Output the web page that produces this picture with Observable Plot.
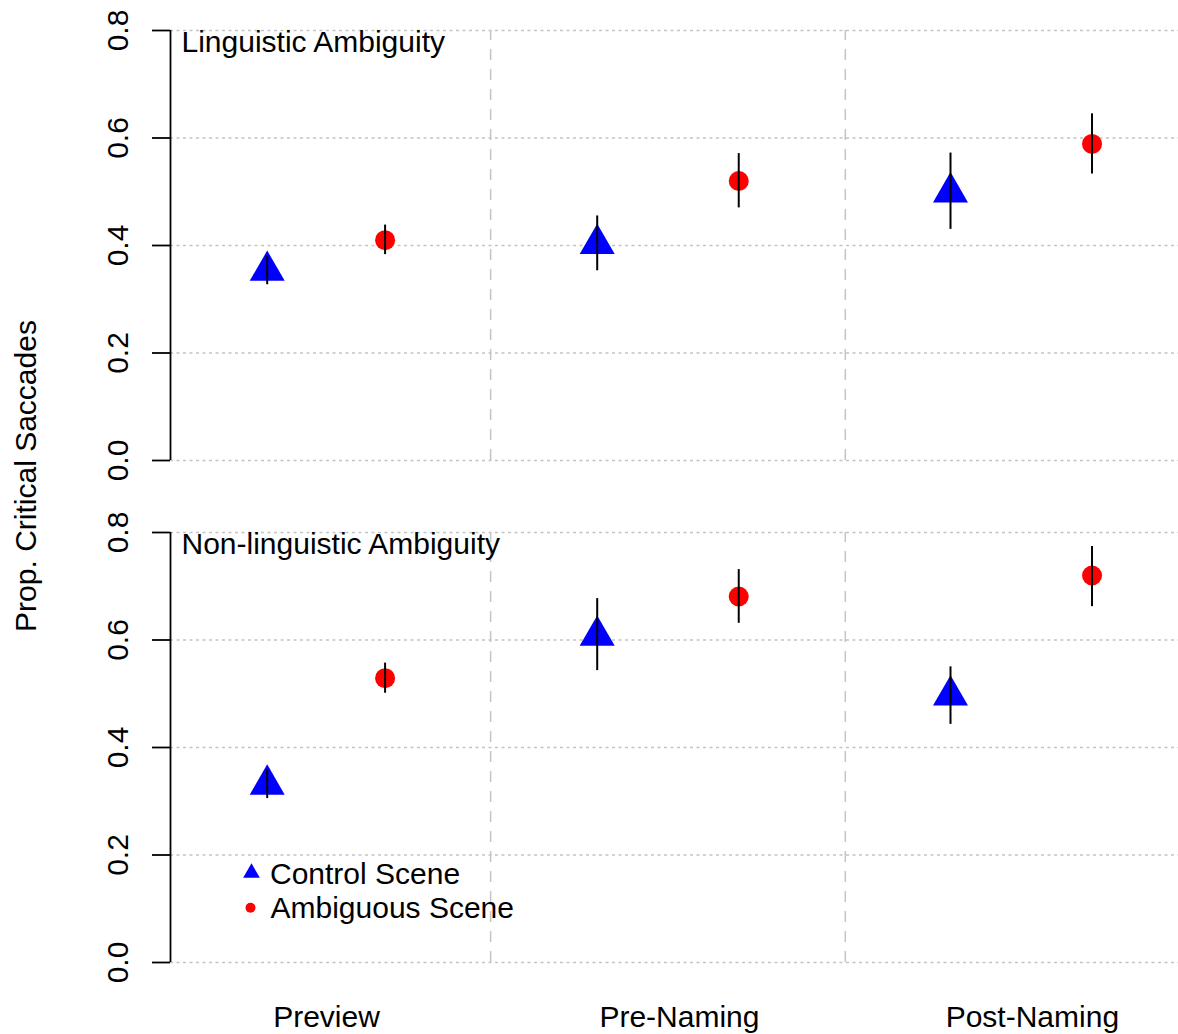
<!DOCTYPE html>
<html>
<head>
<meta charset="utf-8">
<script src="https://cdn.jsdelivr.net/npm/d3@7"></script>
<script src="https://cdn.jsdelivr.net/npm/@observablehq/plot@0.6"></script>
<style>
  body { margin: 0; background: #fff; }
  #chart { position: relative; width: 1178px; height: 1034px; background: #fff;
           font-family: "Liberation Sans", Arial, Helvetica, sans-serif; }
  #chart svg { position: absolute; left: 0; }
  #ytitle { position: absolute; left: 26px; top: 476px; transform: translate(-50%, -50%) rotate(-90deg);
            font-size: 30px; white-space: nowrap; line-height: normal; color: #000; }
</style>
</head>
<body>
<div id="chart"></div>
<script>
// ---- data ----
const phases = ["Preview", "Pre-Naming", "Post-Naming"];
const phaseCenters = [1, 2, 3];
const phaseBoundaries = [1.465, 2.47];
const controlX = [0.832, 1.767, 2.768];
const ambiguousX = [1.166, 2.168, 3.169];
const panelTitles = ["Linguistic Ambiguity", "Non-linguistic Ambiguity"];

// Linguistic ambiguity panel
const lingControl   = [0.353, 0.403, 0.499];
const lingControlLo = [0.327, 0.353, 0.430];
const lingControlHi = [0.380, 0.455, 0.572];
const lingAmbig     = [0.410, 0.520, 0.589];
const lingAmbigLo   = [0.383, 0.470, 0.533];
const lingAmbigHi   = [0.438, 0.571, 0.645];

// Non-linguistic ambiguity panel
const nonControl    = [0.331, 0.608, 0.497];
const nonControlLo  = [0.305, 0.543, 0.443];
const nonControlHi  = [0.358, 0.677, 0.550];
const nonAmbig      = [0.529, 0.681, 0.720];
const nonAmbigLo    = [0.501, 0.631, 0.662];
const nonAmbigHi    = [0.557, 0.731, 0.774];

const yTicks = [0, 0.2, 0.4, 0.6, 0.8];
const legendLabels = ["Control Scene", "Ambiguous Scene"];
const yTitle = "Prop. Critical Saccades";

// ---- drawing ----
const FONT = "\"Liberation Sans\", Arial, Helvetica, sans-serif";
const FS = 30;
const xDomain = [0.558, 3.414];
const GRID = "#c4c4c4";

function buildRows(ctrl, ctrlLo, ctrlHi, amb, ambLo, ambHi) {
  const control = phases.map((p, i) => ({phase: p, cond: "Control", x: controlX[i], y: ctrl[i], lo: ctrlLo[i], hi: ctrlHi[i]}));
  const ambiguous = phases.map((p, i) => ({phase: p, cond: "Ambiguous", x: ambiguousX[i], y: amb[i], lo: ambLo[i], hi: ambHi[i]}));
  return {control, ambiguous};
}

function panel(title, rows, {height, marginTop, marginBottom, xLabels, legend}) {
  const marks = [
    Plot.ruleY(yTicks, {stroke: GRID, strokeWidth: 1.5, strokeDasharray: "3,3.5"}),
    Plot.ruleX(phaseBoundaries, {y1: 0, y2: 0.8, stroke: GRID, strokeWidth: 1.5, strokeDasharray: "11,9"}),
    Plot.ruleX([xDomain[0]], {y1: 0, y2: 0.8, stroke: "black", strokeWidth: 1.8}),
    Plot.axisY({ticks: yTicks, tickFormat: d3.format(".1f"), tickSize: 18, tickPadding: 25,
                tickRotate: -90, fontSize: FS, strokeWidth: 1.8, label: null}),
    Plot.dot(rows.control, {x: "x", y: "y", symbol: "triangle", r: 13, fill: "#0000ff"}),
    Plot.dot(rows.ambiguous, {x: "x", y: "y", symbol: "circle", r: 10, fill: "#ff0000"}),
    Plot.ruleX(rows.control.concat(rows.ambiguous), {x: "x", y1: "lo", y2: "hi", stroke: "black", strokeWidth: 2}),
    Plot.text([title], {frameAnchor: "top-left", dx: 11, dy: 0, textAnchor: "start", lineAnchor: "top", fontSize: FS, fill: "black"})
  ];
  if (xLabels) {
    marks.push(Plot.text(phases, {x: (d, i) => phaseCenters[i], text: d => d, frameAnchor: "bottom",
                                  dy: 64, lineAnchor: "bottom", fontSize: FS, fill: "black"}));
  }
  if (legend) {
    marks.push(
      Plot.dot([legendLabels[0]], {frameAnchor: "top-left", dx: 81, dy: 340.5, symbol: "triangle", r: 6.2, fill: "#0000ff"}),
      Plot.dot([legendLabels[1]], {frameAnchor: "top-left", dx: 80, dy: 375.3, symbol: "circle", r: 5, fill: "#ff0000"}),
      Plot.text([legendLabels[0]], {frameAnchor: "top-left", dx: 99.5, dy: 351.5, textAnchor: "start", lineAnchor: "bottom", fontSize: FS, fill: "black"}),
      Plot.text([legendLabels[1]], {frameAnchor: "top-left", dx: 100, dy: 385, textAnchor: "start", lineAnchor: "bottom", fontSize: FS, fill: "black"})
    );
  }
  return Plot.plot({
    width: 1178,
    height,
    marginLeft: 170,
    marginRight: 0,
    marginTop,
    marginBottom,
    style: {fontFamily: FONT, fontSize: FS + "px", background: "white", color: "black"},
    x: {domain: xDomain, axis: null},
    y: {domain: [0, 0.8], axis: null},
    marks
  });
}

const chart = document.getElementById("chart");

const top1 = panel(panelTitles[0],
  buildRows(lingControl, lingControlLo, lingControlHi, lingAmbig, lingAmbigLo, lingAmbigHi),
  {height: 496, marginTop: 30, marginBottom: 36, xLabels: false, legend: false});
top1.style.top = "0px";
chart.appendChild(top1);

const bottom = panel(panelTitles[1],
  buildRows(nonControl, nonControlLo, nonControlHi, nonAmbig, nonAmbigLo, nonAmbigHi),
  {height: 538, marginTop: 36, marginBottom: 72, xLabels: true, legend: true});
bottom.style.top = "496px";
chart.appendChild(bottom);

const yt = document.createElement("div");
yt.id = "ytitle";
yt.textContent = yTitle;
chart.appendChild(yt);
</script>
</body>
</html>
